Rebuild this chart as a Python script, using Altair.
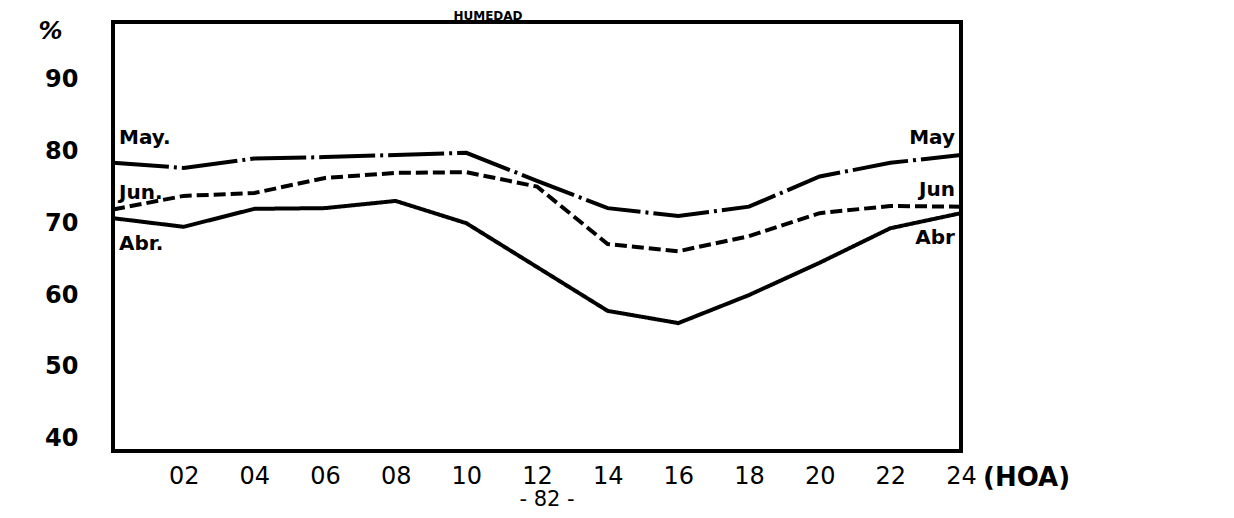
import altair as alt
import pandas as pd

# ---- data ----
hours = [0, 2, 4, 6, 8, 10, 12, 14, 16, 18, 20, 22, 24]
may = [78.4, 77.7, 79.0, 79.2, 79.5, 79.8, 75.9, 72.1, 71.0, 72.3, 76.5, 78.4, 79.5]
jun = [71.9, 73.8, 74.2, 76.3, 77.0, 77.1, 75.1, 67.1, 66.1, 68.2, 71.4, 72.4, 72.3]
abr = [70.7, 69.5, 72.0, 72.1, 73.1, 70.0, 63.9, 57.8, 56.1, 60.0, 64.5, 69.3, 71.4]
series_names = ["May", "Jun", "Abr"]
y_ticks = [40, 50, 60, 70, 80, 90]
x_tick_values = [2, 4, 6, 8, 10, 12, 14, 16, 18, 20, 22, 24]
x_tick_labels = ["02", "04", "06", "08", "10", "12", "14", "16", "18", "20", "22", "24"]

left_labels = ["May.", "Jun.", "Abr."]
left_label_y = [81.9, 74.2, 67.1]
right_labels = ["May", "Jun", "Abr"]
right_label_y = [81.9, 74.6, 68.0]

rows = []
for name, vals in zip(series_names, [may, jun, abr]):
    for h, v in zip(hours, vals):
        rows.append({"hora": h, "valor": v, "serie": name})
df = pd.DataFrame(rows)

label_expr = "[" + ",".join("'%s'" % s for s in x_tick_labels) + "][indexof(" + \
    "[" + ",".join(str(v) for v in x_tick_values) + "], datum.value)]"

FONT = "DejaVu Sans"

x_enc = alt.X(
    "hora:Q",
    scale=alt.Scale(domain=[0, 24], nice=False, zero=False),
    axis=alt.Axis(
        values=x_tick_values, labelExpr=label_expr, domain=False, ticks=False,
        grid=False, title=None, labelFontSize=24, labelFont=FONT,
        labelColor="black", labelPadding=13, labelFlush=False,
    ),
)
y_enc = alt.Y(
    "valor:Q",
    scale=alt.Scale(domain=[38.3, 98], nice=False, zero=False),
    axis=alt.Axis(
        values=y_ticks, domain=False, ticks=False, grid=False,
        labelFontSize=24, labelFont=FONT, labelFontWeight="bold",
        labelColor="black", labelPadding=35,
        title="%", titleAngle=0, titleX=-63, titleY=9, titleAlign="center",
        titleBaseline="middle", titleFontSize=24, titleFont=FONT,
        titleFontWeight="bold", titleFontStyle="italic", titleColor="black",
    ),
)

lines = alt.Chart(df).mark_line(color="black", strokeWidth=4).encode(
    x=x_enc,
    y=y_enc,
    detail="serie:N",
    strokeDash=alt.StrokeDash(
        "serie:N",
        scale=alt.Scale(domain=series_names, range=[[56, 5, 3, 5], [12, 5], [1, 0]]),
        legend=None,
    ),
)

ldf = pd.DataFrame({"hora": [0] * 3, "valor": left_label_y, "t": left_labels})
rdf = pd.DataFrame({"hora": [24] * 3, "valor": right_label_y, "t": right_labels})

left_text = alt.Chart(ldf).mark_text(
    align="left", baseline="middle", dx=6, fontSize=20, font=FONT,
    fontWeight="bold", color="black",
).encode(x="hora:Q", y="valor:Q", text="t:N")

right_text = alt.Chart(rdf).mark_text(
    align="right", baseline="middle", dx=-6, fontSize=20, font=FONT,
    fontWeight="bold", color="black",
).encode(x="hora:Q", y="valor:Q", text="t:N")

title_text = alt.Chart(pd.DataFrame({"t": ["HUMEDAD"]})).mark_text(
    align="center", baseline="alphabetic", fontSize=12, font=FONT,
    fontWeight="bold", color="black",
).encode(x=alt.value(375), y=alt.value(-2), text="t:N")

hoa_text = alt.Chart(pd.DataFrame({"t": ["(HOA)"]})).mark_text(
    align="left", baseline="middle", fontSize=26, font=FONT,
    fontWeight="bold", color="black",
).encode(x=alt.value(870), y=alt.value(456), text="t:N")

page_text = alt.Chart(pd.DataFrame({"t": ["- 82 -"]})).mark_text(
    align="center", baseline="middle", fontSize=21, font=FONT, color="black",
).encode(x=alt.value(434), y=alt.value(478), text="t:N")

chart = (
    alt.layer(lines, left_text, right_text, title_text, hoa_text, page_text)
    .properties(
        width=848, height=429,
        autosize=alt.AutoSizeParams(type="none"),
        padding={"left": 105, "top": 14, "right": 257, "bottom": 64},
        background="white",
    )
    .configure_view(stroke="black", strokeWidth=4)
)

chart.save("out.html", embed_options={"renderer": "svg", "actions": False})
